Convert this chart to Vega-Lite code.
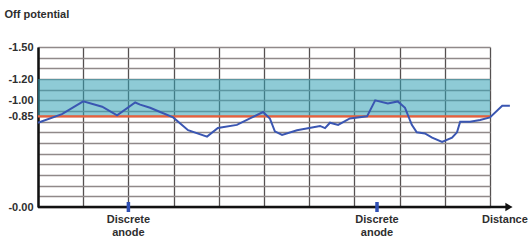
{
  "$schema": "https://vega.github.io/schema/vega-lite/v6.json",
  "width": 452,
  "height": 160,
  "autosize": "none",
  "padding": {"left": 38, "top": 47, "right": 42, "bottom": 39},
  "background": "white",
  "config": {
    "view": {"stroke": null},
    "font": "Liberation Sans",
    "text": {"font": "Liberation Sans", "fontWeight": "bold", "fontSize": 11, "color": "#2e2e2e"},
    "axisX": {"title": null, "labels": false, "ticks": false, "domain": false, "grid": true, "gridColor": "#555050", "gridWidth": 1.3},
    "axisY": {
      "titleAngle": 0, "titleX": -34, "titleY": -33, "titleAlign": "left", "titleBaseline": "middle",
      "titleFont": "Liberation Sans", "titleFontSize": 11, "titleFontWeight": "bold", "titleColor": "#2e2e2e",
      "labelFont": "Liberation Sans", "labelFontSize": 11, "labelFontWeight": "bold", "labelColor": "#2e2e2e",
      "labelPadding": 5, "labelOverlap": false, "labelFlush": false, "ticks": false,
      "domain": true, "domainColor": "#111111", "domainWidth": 2.5,
      "grid": true, "gridColor": "#908989", "gridWidth": 1.6
    }
  },
  "datasets": {
    "potential": [
      {"distance": 0.0, "off": -0.79},
      {"distance": 0.53, "off": -0.87},
      {"distance": 1.0, "off": -0.99},
      {"distance": 1.42, "off": -0.94},
      {"distance": 1.75, "off": -0.86},
      {"distance": 2.15, "off": -0.98},
      {"distance": 2.26, "off": -0.96},
      {"distance": 2.48, "off": -0.93},
      {"distance": 2.65, "off": -0.9},
      {"distance": 2.99, "off": -0.84},
      {"distance": 3.32, "off": -0.72},
      {"distance": 3.74, "off": -0.66},
      {"distance": 3.98, "off": -0.74},
      {"distance": 4.4, "off": -0.77},
      {"distance": 4.69, "off": -0.83},
      {"distance": 4.98, "off": -0.89},
      {"distance": 5.13, "off": -0.83},
      {"distance": 5.24, "off": -0.71},
      {"distance": 5.4, "off": -0.675},
      {"distance": 5.73, "off": -0.72},
      {"distance": 6.24, "off": -0.76},
      {"distance": 6.35, "off": -0.74},
      {"distance": 6.46, "off": -0.79},
      {"distance": 6.64, "off": -0.77},
      {"distance": 6.9, "off": -0.83},
      {"distance": 7.28, "off": -0.85},
      {"distance": 7.46, "off": -1.0},
      {"distance": 7.74, "off": -0.97},
      {"distance": 7.96, "off": -0.99},
      {"distance": 8.12, "off": -0.93},
      {"distance": 8.27, "off": -0.77},
      {"distance": 8.38, "off": -0.7},
      {"distance": 8.56, "off": -0.69},
      {"distance": 8.72, "off": -0.65},
      {"distance": 8.94, "off": -0.61},
      {"distance": 9.16, "off": -0.65},
      {"distance": 9.27, "off": -0.7},
      {"distance": 9.34, "off": -0.8},
      {"distance": 9.56, "off": -0.8},
      {"distance": 9.78, "off": -0.815},
      {"distance": 10.0, "off": -0.84},
      {"distance": 10.27, "off": -0.95},
      {"distance": 10.44, "off": -0.95}
    ],
    "anodes": [
      {"distance": 2, "label": "Discrete\nanode"},
      {"distance": 7.5, "label": "Discrete\nanode"}
    ],
    "one": [{}]
  },
  "layer": [
    {
      "data": {"name": "potential"},
      "mark": {"type": "line", "color": "#3a56b2", "strokeWidth": 2, "opacity": 0},
      "encoding": {
        "x": {
          "field": "distance",
          "type": "quantitative",
          "scale": {"domain": [0, 10], "nice": false, "zero": false},
          "axis": {"values": [0, 1, 2, 3, 4, 5, 6, 7, 8, 9, 10], "tickCount": 30}
        },
        "y": {
          "field": "off",
          "type": "quantitative",
          "scale": {"domain": [-1.5, 0], "reverse": true, "nice": false, "zero": false},
          "axis": {
            "title": "Off potential",
            "tickCount": 30,
            "values": [-1.5, -1.4, -1.3, -1.2, -1.1, -1.0, -0.9, -0.85, -0.8, -0.7, -0.6, -0.5, -0.4, -0.3, -0.2, -0.1, 0],
            "labelExpr": "datum.value == -1.5 ? '-1.50' : datum.value == -1.2 ? '-1.20' : datum.value == -1 ? '-1.00' : datum.value == -0.85 ? '-0.85' : datum.value == 0 ? '-0.00' : ''"
          }
        }
      }
    },
    {
      "data": {"name": "one"},
      "mark": {"type": "rect", "color": "#31A0B4", "opacity": 0.55},
      "encoding": {
        "x": {"datum": 0, "type": "quantitative"},
        "x2": {"datum": 10},
        "y": {"datum": -1.2, "type": "quantitative"},
        "y2": {"datum": -0.85}
      }
    },
    {
      "data": {"name": "one"},
      "mark": {"type": "rule", "color": "#e8603c", "strokeWidth": 2.2},
      "encoding": {
        "x": {"datum": 0, "type": "quantitative"},
        "x2": {"datum": 10},
        "y": {"datum": -0.85, "type": "quantitative"}
      }
    },
    {
      "data": {"name": "potential"},
      "mark": {"type": "line", "color": "#3a56b2", "strokeWidth": 2, "clip": false},
      "encoding": {
        "x": {"field": "distance", "type": "quantitative"},
        "y": {"field": "off", "type": "quantitative"}
      }
    },
    {
      "data": {"name": "one"},
      "mark": {"type": "rule", "color": "#111111", "strokeWidth": 2.5, "clip": false},
      "encoding": {
        "x": {"datum": 0, "type": "quantitative"},
        "x2": {"datum": 10.4},
        "y": {"datum": 0, "type": "quantitative"}
      }
    },
    {
      "data": {"name": "one"},
      "mark": {"type": "point", "shape": "triangle-right", "filled": true, "color": "#111111", "opacity": 1, "size": 70, "clip": false},
      "encoding": {
        "x": {"datum": 10.42, "type": "quantitative"},
        "y": {"datum": 0, "type": "quantitative"}
      }
    },
    {
      "data": {"name": "anodes"},
      "mark": {"type": "tick", "orient": "vertical", "color": "#2f4fb5", "size": 10, "thickness": 3.5, "opacity": 1},
      "encoding": {
        "x": {"field": "distance", "type": "quantitative"},
        "y": {"datum": 0, "type": "quantitative"}
      }
    },
    {
      "data": {"name": "anodes"},
      "mark": {"type": "text", "lineBreak": "\n", "baseline": "top", "align": "center", "dy": 7, "lineHeight": 13, "clip": false},
      "encoding": {
        "x": {"field": "distance", "type": "quantitative"},
        "y": {"datum": 0, "type": "quantitative"},
        "text": {"field": "label"}
      }
    },
    {
      "data": {"name": "one"},
      "mark": {"type": "text", "baseline": "top", "align": "center", "dy": 7, "clip": false},
      "encoding": {
        "x": {"datum": 10.33, "type": "quantitative"},
        "y": {"datum": 0, "type": "quantitative"},
        "text": {"value": "Distance"}
      }
    }
  ]
}
